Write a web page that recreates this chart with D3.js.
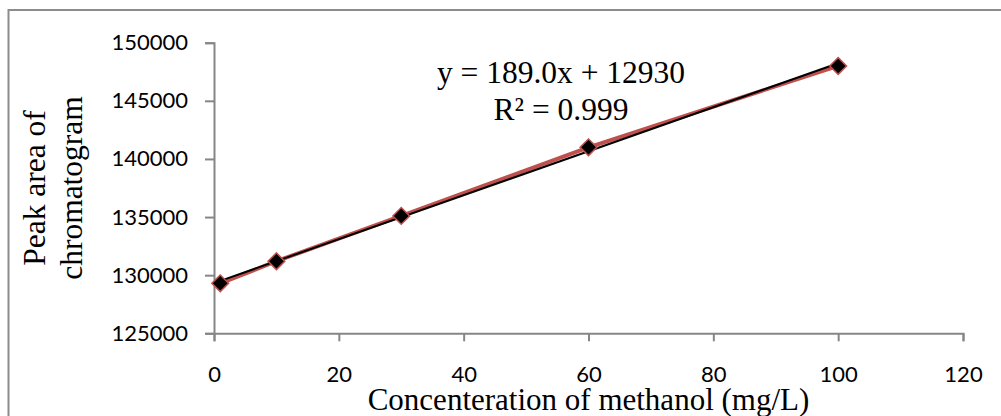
<!DOCTYPE html>
<html>
<head>
<meta charset="utf-8">
<script src="https://cdn.jsdelivr.net/npm/d3@7"></script>
<style>
  body { margin: 0; background: #fff; }
  svg { display: block; }
</style>
</head>
<body>
<script>
// data
var concentration = [1, 10, 30, 60, 100];           // mg/L
var peakArea = [129300, 131200, 135100, 141000, 148000];
var xTicks = [0, 20, 40, 60, 80, 100, 120];
var yTicks = [125000, 130000, 135000, 140000, 145000, 150000];
var equationText = ['y = 189.0x + 12930', 'R\u00B2 = 0.999'];

var scr = { w: 1001, h: 416 };
var plot = { left: 214, right: 963, top: 42.7, bottom: 333.3 };

var svg = d3.select('body').append('svg')
    .attr('width', scr.w)
    .attr('height', scr.h);

// outer chart frame (right and bottom edges are off the picture)
svg.append('rect')
    .attr('x', 8.5)
    .attr('y', 10)
    .attr('width', 1010)
    .attr('height', 420)
    .attr('fill', 'none')
    .attr('stroke', '#8c8c8c')
    .attr('stroke-width', 2);

var xScale = d3.scaleLinear()
    .domain([0, 120])
    .range([plot.left, plot.right]);

var yScale = d3.scaleLinear()
    .domain([125000, 150000])
    .range([plot.bottom, plot.top]);

var xAxis = d3.axisBottom(xScale)
    .tickValues(xTicks)
    .tickSize(8)
    .tickSizeOuter(8)
    .tickFormat(d3.format('d'));

var yAxis = d3.axisLeft(yScale)
    .tickValues(yTicks)
    .tickSize(9)
    .tickSizeOuter(9)
    .tickPadding(17)
    .tickFormat(d3.format('d'));

var gx = svg.append('g')
    .attr('transform', 'translate(0,' + plot.bottom + ')')
    .call(xAxis);

var gy = svg.append('g')
    .attr('transform', 'translate(' + plot.left + ',0)')
    .call(yAxis);

[gx, gy].forEach(function(g) {
    g.selectAll('path, line')
        .attr('stroke', '#868686')
        .attr('stroke-width', 2);
    g.selectAll('text')
        .attr('fill', '#000')
        .style('font-family', 'Lato, "Open Sans", sans-serif')
        .style('font-size', '22px');
});
gx.selectAll('text')
    .attr('y', 49)
    .attr('dy', 0);

// axis titles
svg.append('text')
    .attr('x', (plot.left + plot.right) / 2)
    .attr('y', 410)
    .attr('text-anchor', 'middle')
    .style('font-family', '"Liberation Serif", "Times New Roman", serif')
    .style('font-size', '31px')
    .text('Concenteration of methanol (mg/L)');

var yTitle = svg.append('text')
    .attr('transform', 'translate(45,' + (plot.top + plot.bottom) / 2 + ') rotate(-90)')
    .attr('text-anchor', 'middle')
    .style('font-family', '"Liberation Serif", "Times New Roman", serif')
    .style('font-size', '31.5px');
yTitle.append('tspan').attr('x', 0).attr('y', 0).text('Peak area of');
yTitle.append('tspan').attr('x', 0).attr('y', 36.5).text('chromatogram');

// series line (red) with markers
var points = concentration.map(function(c, i) { return [c, peakArea[i]]; });

var line = d3.line()
    .x(function(d) { return xScale(d[0]); })
    .y(function(d) { return yScale(d[1]); });

svg.append('path')
    .datum(points)
    .attr('d', line)
    .attr('fill', 'none')
    .attr('stroke', '#c0504d')
    .attr('stroke-width', 4);

// linear trendline (least squares over the data)
var mx = d3.mean(concentration), my = d3.mean(peakArea);
var sxy = d3.sum(points, function(d) { return (d[0] - mx) * (d[1] - my); });
var sxx = d3.sum(concentration, function(c) { return (c - mx) * (c - mx); });
var slope = sxy / sxx;
var intercept = my - slope * mx;
var xExtent = d3.extent(concentration);
var trend = xExtent.map(function(c) { return [c, intercept + slope * c]; });

svg.append('path')
    .datum(trend)
    .attr('d', line)
    .attr('fill', 'none')
    .attr('stroke', '#000')
    .attr('stroke-width', 2);

// diamond markers: a square turned 45 degrees
svg.selectAll('path.marker')
    .data(points)
    .enter()
    .append('path')
    .classed('marker', true)
    .attr('d', d3.symbol().type(d3.symbolSquare).size(140))
    .attr('transform', function(d) {
        return 'translate(' + xScale(d[0]) + ',' + yScale(d[1]) + ') rotate(45)';
    })
    .attr('fill', '#000')
    .attr('stroke', '#c0504d')
    .attr('stroke-width', 1.5);

// regression label
svg.selectAll('text.eq')
    .data(equationText)
    .enter()
    .append('text')
    .classed('eq', true)
    .attr('x', 561)
    .attr('y', function(d, i) { return 83 + i * 36.7; })
    .attr('text-anchor', 'middle')
    .style('font-family', '"Liberation Serif", "Times New Roman", serif')
    .style('font-size', '31.5px')
    .text(function(d) { return d; });
</script>
</body>
</html>
